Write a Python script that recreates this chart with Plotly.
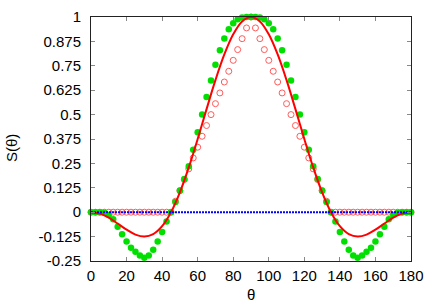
import plotly.graph_objects as go

theta = [0, 2.5, 5, 7.5, 10, 12.5, 15, 17.5, 20, 22.5, 25, 27.5, 30, 32.5, 35, 37.5, 40, 42.5,
         45, 47.5, 50, 52.5, 55, 57.5, 60, 62.5, 65, 67.5, 70, 72.5, 75, 77.5, 80, 82.5, 85, 87.5,
         90, 92.5, 95, 97.5, 100, 102.5, 105, 107.5, 110, 112.5, 115, 117.5, 120, 122.5, 125, 127.5,
         130, 132.5, 135, 137.5, 140, 142.5, 145, 147.5, 150, 152.5, 155, 157.5, 160, 162.5, 165,
         167.5, 170, 172.5, 175, 177.5, 180]

green_pts = [0, 0, 0, -0.003, -0.014, -0.036, -0.074, -0.113, -0.150, -0.182, -0.203, -0.222,
             -0.233, -0.222, -0.192, -0.150, -0.102, -0.048, 0, 0.052, 0.11, 0.17, 0.235, 0.32,
             0.41, 0.50, 0.59, 0.675, 0.755, 0.83, 0.89, 0.937, 0.968, 0.988, 0.997, 1.0, 1.0,
             1.0, 0.997, 0.988, 0.968, 0.937, 0.89, 0.83, 0.755, 0.675, 0.59, 0.50, 0.41, 0.32,
             0.235, 0.17, 0.11, 0.052, 0, -0.048, -0.102, -0.150, -0.192, -0.222, -0.233, -0.222,
             -0.203, -0.182, -0.150, -0.113, -0.074, -0.036, -0.014, -0.003, 0, 0, 0]

red_circles = [0, 0, 0, 0, 0, 0, 0, 0, 0, 0, 0, 0, 0, 0, 0, 0, 0, 0, 0,
               0.056, 0.111, 0.167, 0.222, 0.278, 0.333, 0.389, 0.444, 0.5, 0.556, 0.611, 0.667,
               0.722, 0.778, 0.833, 0.889, 0.944, 1.0, 0.944, 0.889, 0.833, 0.778, 0.722, 0.667,
               0.611, 0.556, 0.5, 0.444, 0.389, 0.333, 0.278, 0.222, 0.167, 0.111, 0.056,
               0, 0, 0, 0, 0, 0, 0, 0, 0, 0, 0, 0, 0, 0, 0, 0, 0, 0, 0]

theta_line = [0, 5, 10, 15, 20, 25, 30, 35, 40, 45, 50, 55, 60, 65, 70, 75, 80, 85, 90,
              95, 100, 105, 110, 115, 120, 125, 130, 135, 140, 145, 150, 155, 160, 165, 170, 175, 180]
red_line = [0, -0.0075, -0.0283, -0.058, -0.0896, -0.1148, -0.125, -0.1125, -0.0717, 0, 0.1019,
            0.2295, 0.375, 0.528, 0.6764, 0.808, 0.9114, 0.9773, 1.0, 0.9773, 0.9114, 0.808,
            0.6764, 0.528, 0.375, 0.2295, 0.1019, 0, -0.0717, -0.1125, -0.125, -0.1148, -0.0896,
            -0.058, -0.0283, -0.0075, 0]

blue_x = [0, 180]
blue_y = [0, 0]

xtick_vals = [0, 20, 40, 60, 80, 100, 120, 140, 160, 180]
ytick_vals = [-0.25, -0.125, 0, 0.125, 0.25, 0.375, 0.5, 0.625, 0.75, 0.875, 1]
ytick_text = ["-0.25", "-0.125", "0", "0.125", "0.25", "0.375", "0.5", "0.625", "0.75", "0.875", "1"]

FONT = "Liberation Sans, Arial, sans-serif"

fig = go.Figure()
fig.add_trace(go.Scatter(x=theta, y=red_circles, mode="markers",
                         marker=dict(symbol="circle-open", size=6, color="#ff5a5a",
                                     line=dict(width=1, color="#ff5a5a")),
                         showlegend=False, cliponaxis=False))
fig.add_trace(go.Scatter(x=theta, y=green_pts, mode="markers",
                         marker=dict(symbol="circle", size=6.5, color="#00e000"),
                         showlegend=False, cliponaxis=False))
fig.add_trace(go.Scatter(x=theta_line, y=red_line, mode="lines",
                         line=dict(color="#ff0000", width=2, shape="spline"),
                         showlegend=False))
fig.add_trace(go.Scatter(x=blue_x, y=blue_y, mode="lines",
                         line=dict(color="#0000ff", width=2, dash="2px,1px"),
                         showlegend=False))

axis_common = dict(showgrid=False, zeroline=False, showline=True, linecolor="#222222",
                   linewidth=1, mirror="allticks", ticks="inside", ticklen=4,
                   tickcolor="#888888", tickwidth=1, automargin=False,
                   tickfont=dict(family=FONT, size=15, color="#000000"))

fig.update_xaxes(range=[0, 180], tickvals=xtick_vals, ticklabelstandoff=1, **axis_common)
fig.update_yaxes(range=[-0.25, 1], tickvals=ytick_vals, ticktext=ytick_text,
                 ticklabelstandoff=6, **axis_common)

fig.add_annotation(text="θ", xref="paper", yref="paper", x=0.5, y=-0.137,
                   xanchor="center", yanchor="middle",
                   showarrow=False, font=dict(family=FONT, size=15, color="#000000"))
fig.add_annotation(text="S(θ)", xref="paper", yref="paper", x=-0.25, y=0.463,
                   xanchor="center", yanchor="middle",
                   textangle=-90, showarrow=False,
                   font=dict(family=FONT, size=15, color="#000000"))

fig.update_layout(width=436, height=305, margin=dict(l=91, r=25, t=17, b=44),
                  plot_bgcolor="white", paper_bgcolor="white")

fig.write_html("out.html", config={"displayModeBar": False},
               post_script="document.body.style.margin='0';document.body.style.overflow='hidden';")
